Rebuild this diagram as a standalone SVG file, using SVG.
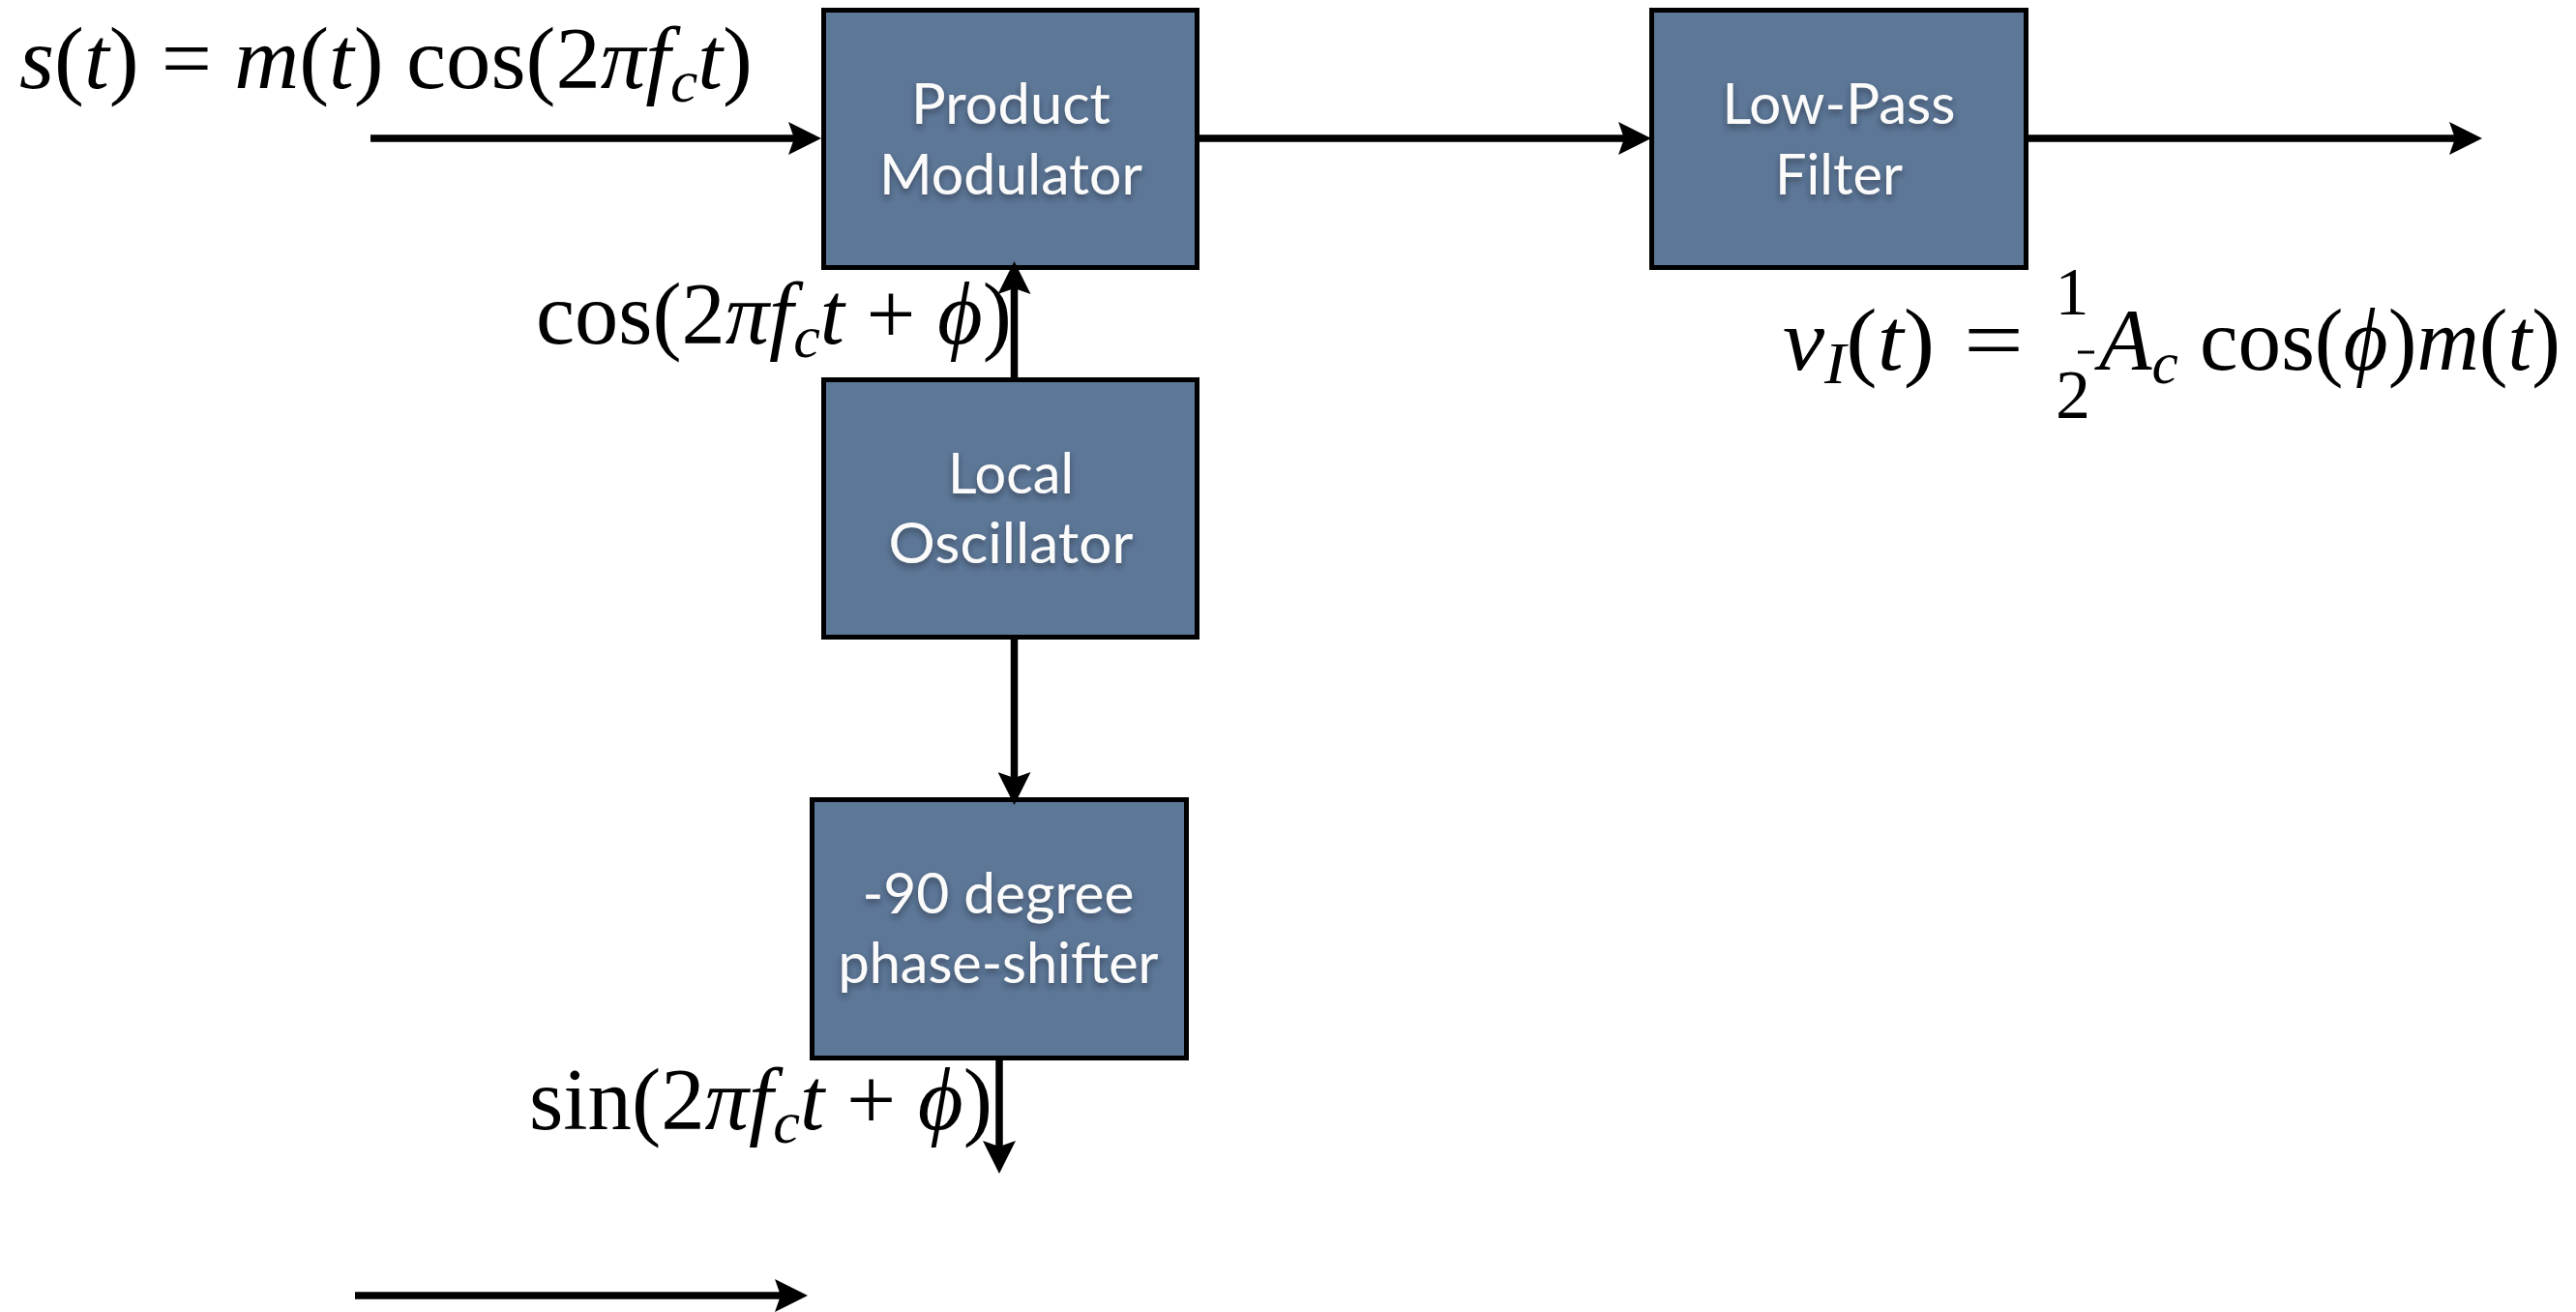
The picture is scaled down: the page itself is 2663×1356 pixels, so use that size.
<svg xmlns="http://www.w3.org/2000/svg" width="2663" height="1356" viewBox="0 0 2663 1356">
<style>
.box{fill:#5d7797;stroke:#000;stroke-width:5}
.lbl{font-family:Lato,"Open Sans","Noto Sans",sans-serif;font-size:58px;fill:#fbfbfb;text-anchor:middle;filter:url(#sh)}
.m{font-family:"Liberation Serif","DejaVu Serif",serif;font-size:90px;fill:#000}
.i{font-style:italic}
.sub{font-size:62px}
.conn line{stroke:#000;stroke-width:7.5;marker-end:url(#ah)}
</style>
<defs>
<filter id="sh" x="-20%" y="-30%" width="140%" height="170%">
<feDropShadow dx="0" dy="4" stdDeviation="3" flood-color="#1a2535" flood-opacity="0.55"/>
</filter>
<marker id="ah" viewBox="0 0 34 34" markerWidth="34" markerHeight="34" refX="24" refY="17" orient="auto" markerUnits="userSpaceOnUse">
<path d="M0,0 L34,17 L0,34 L6,17 Z" fill="#000"/>
</marker>
</defs>
<rect width="2663" height="1356" fill="#fff"/>

<g id="product-modulator">
<rect class="box" x="851.5" y="10.5" width="386" height="266"/>
<text class="lbl" x="1045" y="128" textLength="206" lengthAdjust="spacingAndGlyphs">Product</text>
<text class="lbl" x="1045" y="201" textLength="272" lengthAdjust="spacingAndGlyphs">Modulator</text>
</g>
<g id="low-pass-filter">
<rect class="box" x="1707.5" y="10.5" width="387" height="266"/>
<text class="lbl" x="1901" y="128" textLength="241" lengthAdjust="spacingAndGlyphs">Low-Pass</text>
<text class="lbl" x="1901" y="201" textLength="132" lengthAdjust="spacingAndGlyphs">Filter</text>
</g>
<g id="local-oscillator">
<rect class="box" x="851.5" y="392.5" width="386" height="266"/>
<text class="lbl" x="1045" y="510" textLength="130" lengthAdjust="spacingAndGlyphs">Local</text>
<text class="lbl" x="1045" y="582" textLength="253" lengthAdjust="spacingAndGlyphs">Oscillator</text>
</g>
<g id="phase-shifter">
<rect class="box" x="839.5" y="826.5" width="387" height="267"/>
<text class="lbl" x="1032" y="944" textLength="281" lengthAdjust="spacingAndGlyphs">-90 degree</text>
<text class="lbl" x="1032" y="1016" textLength="331" lengthAdjust="spacingAndGlyphs">phase-shifter</text>
</g>

<g id="connectors" class="conn">
<line x1="383" y1="143" x2="839" y2="143"/>
<line x1="1240" y1="143" x2="1697" y2="143"/>
<line x1="2097" y1="143" x2="2556" y2="143"/>
<line x1="1048.5" y1="392" x2="1048.5" y2="280"/>
<line x1="1048.5" y1="660" x2="1048.5" y2="822"/>
<line x1="1033" y1="1095" x2="1033" y2="1203"/>
<line x1="367" y1="1339" x2="825" y2="1339"/>
</g>

<g id="labels">
<text class="m" x="20" y="91" textLength="758" lengthAdjust="spacingAndGlyphs"><tspan class="i">s</tspan>(<tspan class="i">t</tspan>) = <tspan class="i">m</tspan>(<tspan class="i">t</tspan>) cos(2<tspan class="i">π</tspan><tspan class="i">f</tspan><tspan class="i sub" dy="14">c</tspan><tspan class="i" dy="-14">t</tspan>)</text>
<text class="m" x="554" y="355" textLength="492" lengthAdjust="spacingAndGlyphs">cos(2<tspan class="i">π</tspan><tspan class="i">f</tspan><tspan class="i sub" dy="14">c</tspan><tspan class="i" dy="-14">t</tspan> + <tspan class="i">ϕ</tspan>)</text>
<text class="m" x="547" y="1167" textLength="479" lengthAdjust="spacingAndGlyphs">sin(2<tspan class="i">π</tspan><tspan class="i">f</tspan><tspan class="i sub" dy="14">c</tspan><tspan class="i" dy="-14">t</tspan> + <tspan class="i">ϕ</tspan>)</text>
<text class="m" x="1843" y="382" textLength="157" lengthAdjust="spacingAndGlyphs"><tspan class="i">v</tspan><tspan class="i sub" dy="14">I</tspan><tspan dy="-14">(</tspan><tspan class="i">t</tspan>)</text>
<text class="m" x="2030" y="382" textLength="62" lengthAdjust="spacingAndGlyphs">=</text>
<text class="m" x="2142" y="325" text-anchor="middle" style="font-size:70px">1</text>
<line x1="2148" y1="364" x2="2165" y2="364" stroke="#000" stroke-width="3"/>
<text class="m" x="2143" y="432" text-anchor="middle" style="font-size:72px">2</text>
<text class="m" x="2170" y="382" textLength="477" lengthAdjust="spacingAndGlyphs"><tspan class="i">A</tspan><tspan class="i sub" dy="14">c</tspan><tspan dy="-14"> cos(</tspan><tspan class="i">ϕ</tspan>)<tspan class="i">m</tspan>(<tspan class="i">t</tspan>)</text>
</g>
</svg>
